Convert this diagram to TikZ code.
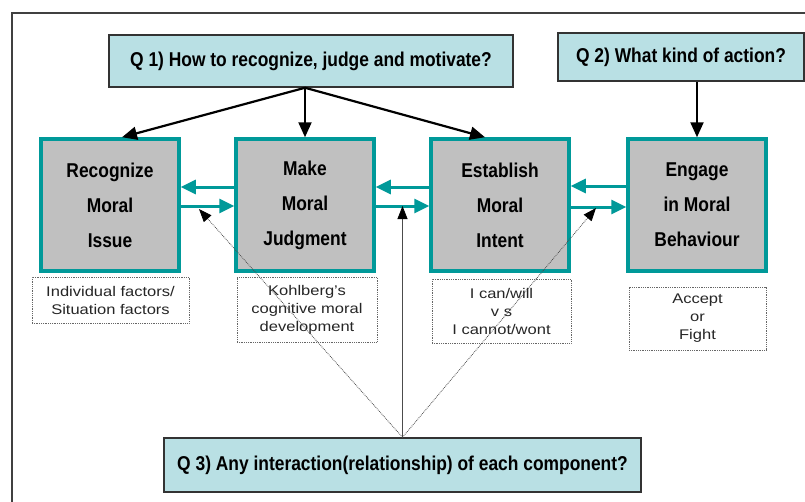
\documentclass[tikz,border=0pt]{standalone}
\usepackage{fontspec}
\setmainfont{Liberation Sans}
\newfontfamily\headfont[FakeStretch=0.87]{Liberation Sans}
\newfontfamily\notefont[FakeStretch=1.18]{Liberation Sans}
\usetikzlibrary{arrows.meta}

\definecolor{qcyan}{RGB}{185,224,228}
\definecolor{tealc}{RGB}{0,153,153}
\definecolor{stagegray}{RGB}{192,192,192}

\begin{document}
\begin{tikzpicture}[x=1pt,y=-1pt,
	qbox/.style={draw=black!80, line width=1.5pt, fill=qcyan, font=\headfont\bfseries\fontsize{20pt}{24pt}\selectfont},
	stage/.style={draw=tealc, line width=3.5pt, fill=stagegray, minimum width=138pt, minimum height=132pt, align=center, font=\headfont\bfseries\fontsize{20pt}{35pt}\selectfont},
	note/.style={draw=black!60, densely dotted, line width=0.8pt, align=center, text=black!85, font=\notefont\fontsize{14pt}{18pt}\selectfont},
	down/.style={-{Triangle[length=15pt,width=13pt]}, line width=2.2pt},
	flow/.style={draw=tealc, line width=3pt, -{Triangle[length=15pt,width=14pt]}},
	link/.style={draw=black!70, line width=0.8pt, -{Triangle[length=13pt,width=10pt,color=black,fill=black]}}]
	\useasboundingbox (0,0) rectangle (805,501);
	\clip (0,0) rectangle (805,501);
	\fill[white] (0,0) rectangle (805,501);
	% frame, runs out past the right and bottom edge
	\draw[line width=1.5pt, black!75] (12,13) rectangle (830,530);

	% the three questions
	\node[qbox, minimum width=404pt, minimum height=52pt] (q1) at (311,61) {Q 1) How to recognize, judge and motivate?};
	\node[qbox, minimum width=246pt, minimum height=48pt] (q2) at (681,57) {Q 2) What kind of action?};
	\node[qbox, minimum width=477pt, minimum height=54pt] (q3) at (402.5,465) {Q 3) Any interaction(relationship) of each component?};

	% the four components
	\node[stage] (rmi) at (110,205) {Recognize\\Moral\\Issue};
	\node[stage] (mmj) at (305,205) {Make\\Moral\\Judgment};
	\node[stage] (emi) at (500,205) {Establish\\Moral\\Intent};
	\node[stage] (emb) at (697,205) {Engage\\in Moral\\Behaviour};

	% notes under each component
	\node[note, minimum width=157pt, minimum height=46pt] (n1) at (110.5,300) {Individual factors/\\Situation factors};
	\node[note, minimum width=140pt, minimum height=65pt] (n2) at (307,309.5) {Kohlberg’s\\cognitive moral\\development};
	\node[note, minimum width=139pt, minimum height=64pt] (n3) at (501.5,311) {I can/will\\v s\\I cannot/wont};
	\node[note, minimum width=137pt, minimum height=63pt] (n4) at (697.5,318.5) {Accept\\or\\Fight};

	% Q1 and Q2 point down to the components
	\draw[down] (q1.south -| mmj.north) -- ([xshift=12pt]rmi.north);
	\draw[down] (q1.south -| mmj.north) -- (mmj.north);
	\draw[down] (q1.south -| mmj.north) -- ([xshift=-15pt]emi.north);
	\draw[down] (q2.south -| emb.north) -- (emb.north);

	% back and forth between neighbours
	\draw[flow] ([yshift=18pt]mmj.west) -- ([yshift=18pt]rmi.east);
	\draw[flow] ([yshift=-1pt]rmi.east) -- ([yshift=-1pt]mmj.west);
	\draw[flow] ([yshift=18pt]emi.west) -- ([yshift=18pt]mmj.east);
	\draw[flow] ([yshift=-1pt]mmj.east) -- ([yshift=-1pt]emi.west);
	\draw[flow] ([yshift=19pt]emb.west) -- ([yshift=19pt]emi.east);
	\draw[flow] ([yshift=-2pt]emi.east) -- ([yshift=-2pt]emb.west);

	% Q3 asks about the links
	\coordinate (hit1) at (199,209);
	\coordinate (hit2) at (402.5,206);
	\coordinate (hit3) at (596,208);
	\draw[link, densely dotted] (q3.north) -- (hit1);
	\draw[link] (q3.north) -- (hit2);
	\draw[link, densely dotted] (q3.north) -- (hit3);
\end{tikzpicture}
\end{document}
